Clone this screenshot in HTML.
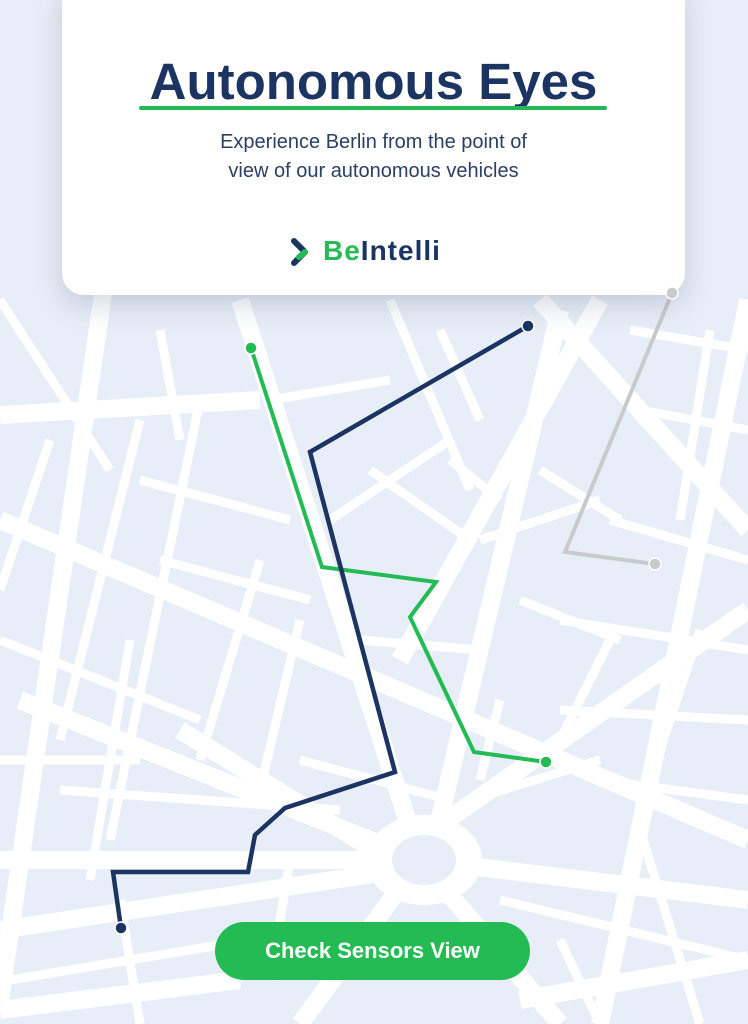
<!DOCTYPE html>
<html><head><meta charset="utf-8"><style>
html,body{margin:0;padding:0;width:748px;height:1024px;overflow:hidden;background:#e8eef7;font-family:"Liberation Sans",sans-serif}
svg{position:absolute;left:0;top:0}
.card{position:absolute;left:62px;top:-20px;width:623px;height:315px;background:#fff;border-radius:22px;box-shadow:0 10px 28px rgba(60,80,120,.22)}
.t{position:absolute;left:0;width:100%;text-align:center;top:52px;font-size:51px;font-weight:bold;color:#1b3461}
.ul{position:absolute;left:77px;top:106px;width:468px;height:4px;background:#22b853;border-radius:2px}
.s{position:absolute;left:0;width:100%;text-align:center;top:128px;font-size:20px;line-height:29px;color:#2b3f63}
.logo{position:absolute;left:323px;top:235px;font-size:28px;font-weight:bold;color:#1b3461;letter-spacing:1px}
.btn{position:absolute;left:215px;top:922px;width:315px;height:58px;border-radius:29px;background:#24bb55;color:#fff;font-weight:bold;font-size:22px;text-align:center;line-height:58px}
</style></head><body>
<svg width="748" height="1024" viewBox="0 0 748 1024">
<g stroke="#fff" fill="none">
<g stroke-width="18">
<line x1="105" y1="280" x2="0" y2="1000"/>
<line x1="0" y1="415" x2="260" y2="400"/>
<line x1="0" y1="520" x2="748" y2="840"/>
<line x1="0" y1="930" x2="400" y2="870"/>
<line x1="240" y1="300" x2="420" y2="860"/>
<line x1="560" y1="310" x2="430" y2="860"/>
<line x1="540" y1="300" x2="748" y2="530"/>
<line x1="748" y1="610" x2="390" y2="860"/>
<line x1="20" y1="700" x2="420" y2="860"/>
<line x1="0" y1="860" x2="420" y2="860"/>
<line x1="420" y1="860" x2="748" y2="900"/>
<line x1="300" y1="1024" x2="420" y2="860"/>
<line x1="560" y1="1024" x2="420" y2="860"/>
<line x1="390" y1="860" x2="180" y2="730"/>
<line x1="600" y1="300" x2="400" y2="660"/>
<line x1="748" y1="300" x2="600" y2="1024"/>
<line x1="0" y1="1010" x2="240" y2="980"/>
<line x1="748" y1="960" x2="520" y2="1000"/>
</g>
<g stroke-width="9">
<line x1="0" y1="300" x2="110" y2="470"/>
<line x1="50" y1="440" x2="0" y2="590"/>
<line x1="160" y1="330" x2="180" y2="440"/>
<line x1="140" y1="420" x2="60" y2="740"/>
<line x1="200" y1="400" x2="110" y2="840"/>
<line x1="140" y1="480" x2="290" y2="520"/>
<line x1="160" y1="560" x2="310" y2="600"/>
<line x1="0" y1="640" x2="200" y2="720"/>
<line x1="0" y1="760" x2="140" y2="760"/>
<line x1="130" y1="640" x2="90" y2="880"/>
<line x1="260" y1="560" x2="200" y2="760"/>
<line x1="60" y1="790" x2="340" y2="810"/>
<line x1="300" y1="620" x2="260" y2="790"/>
<line x1="360" y1="640" x2="480" y2="650"/>
<line x1="370" y1="470" x2="470" y2="540"/>
<line x1="390" y1="300" x2="470" y2="490"/>
<line x1="270" y1="400" x2="390" y2="380"/>
<line x1="440" y1="330" x2="480" y2="420"/>
<line x1="330" y1="520" x2="450" y2="440"/>
<line x1="450" y1="460" x2="500" y2="500"/>
<line x1="480" y1="540" x2="600" y2="500"/>
<line x1="520" y1="600" x2="620" y2="640"/>
<line x1="540" y1="470" x2="620" y2="520"/>
<line x1="630" y1="330" x2="748" y2="350"/>
<line x1="640" y1="410" x2="748" y2="430"/>
<line x1="710" y1="330" x2="680" y2="520"/>
<line x1="610" y1="520" x2="748" y2="560"/>
<line x1="560" y1="620" x2="748" y2="650"/>
<line x1="610" y1="640" x2="560" y2="740"/>
<line x1="700" y1="630" x2="660" y2="750"/>
<line x1="560" y1="710" x2="748" y2="720"/>
<line x1="500" y1="700" x2="480" y2="780"/>
<line x1="600" y1="780" x2="748" y2="800"/>
<line x1="470" y1="800" x2="600" y2="760"/>
<line x1="640" y1="830" x2="700" y2="1024"/>
<line x1="500" y1="900" x2="748" y2="960"/>
<line x1="120" y1="900" x2="140" y2="1024"/>
<line x1="10" y1="980" x2="250" y2="940"/>
<line x1="560" y1="940" x2="600" y2="1024"/>
<line x1="300" y1="760" x2="450" y2="800"/>
<line x1="290" y1="860" x2="270" y2="980"/>
</g>
<ellipse cx="424" cy="860" rx="58" ry="45" fill="#fff" stroke="none"/>
</g>
<ellipse cx="424" cy="860" rx="32" ry="25" fill="#e8eef7"/>
<g fill="none">
<polyline points="672,293 565,552 655,564" stroke="#c9cacc" stroke-width="4"/>
<polyline points="251,348 322,567 436,582 410,617 474,752 546,762" stroke="#24bb55" stroke-width="4"/>
<path d="M528,326 Q470,360 310,452 L395,772 L285,808 L255,835 L248,872 L113,872 L121,928" stroke="#1b3461" stroke-width="4.5"/>
</g>
<circle cx="655" cy="564" r="6" fill="#c9cacc" stroke="#fff" stroke-width="1.5"/>
<circle cx="251" cy="348" r="6" fill="#24bb55" stroke="#fff" stroke-width="1.5"/>
<circle cx="546" cy="762" r="6" fill="#24bb55" stroke="#fff" stroke-width="1.5"/>
<circle cx="528" cy="326" r="6" fill="#1b3461" stroke="#fff" stroke-width="1.5"/>
<circle cx="121" cy="928" r="6" fill="#1b3461" stroke="#fff" stroke-width="1.5"/>
</svg>
<div class="card"></div>
<svg width="748" height="310" style="pointer-events:none">
<circle cx="672" cy="293" r="6" fill="#c9cacc" stroke="#fff" stroke-width="1.5"/>
</svg>
<div style="position:absolute;left:62px;top:0;width:623px;height:295px">
<div class="t">Autonomous Eyes</div>
<div class="ul"></div>
<div class="s">Experience Berlin from the point of<br>view of our autonomous vehicles</div>
</div>
<svg width="748" height="300" style="pointer-events:none">
<polyline points="294,241 305,252 294,263" fill="none" stroke="#1b3461" stroke-width="6" stroke-linecap="round" stroke-linejoin="round"/>
<line x1="299" y1="257" x2="305" y2="252" stroke="#24bb55" stroke-width="6" stroke-linecap="round"/>
</svg>
<div class="logo"><span style="color:#24bb55">Be</span>Intelli</div>
<div class="btn">Check Sensors View</div>
</body></html>
